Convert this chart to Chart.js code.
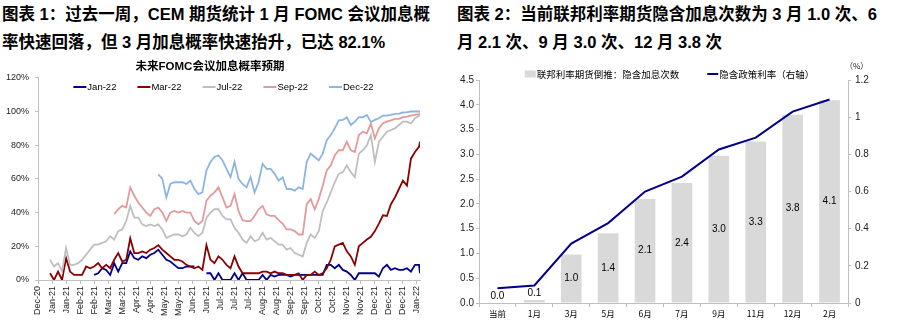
<!DOCTYPE html>
<html>
<head>
<meta charset="utf-8">
<script src="https://cdn.jsdelivr.net/npm/chart.js@4/dist/chart.umd.min.js"></script>
<style>
  body { margin: 0; background: #fff; width: 899px; height: 329px; position: relative; overflow: hidden; }
  .hd { position: absolute; top: 0; font: bold 16.5px/28px "Liberation Sans", "Noto Sans CJK SC", sans-serif; color: #000; white-space: nowrap; }
  canvas { position: absolute; top: 56px; }
</style>
</head>
<body>
<div class="hd" style="left:2px">图表 1：过去一周，CEM 期货统计 1 月 FOMC 会议加息概<br>率快速回落，但 3 月加息概率快速抬升，已达 82.1%</div>
<div class="hd" style="left:457px">图表 2：当前联邦利率期货隐含加息次数为 3 月 1.0 次、6<br>月 2.1 次、9 月 3.0 次、12 月 3.8 次</div>
<canvas id="prob" width="450" height="273" style="left:0"></canvas>
<canvas id="hikes" width="449" height="273" style="left:450px"></canvas>
<script>
// left chart: tick labels every 14 days starting at Dec-20
const dateTicks = ["Dec-20", "Jan-21", "Jan-21", "Feb-21", "Feb-21", "Mar-21", "Mar-21", "Apr-21", "Apr-21",
  "May-21", "May-21", "Jun-21", "Jun-21", "Jul-21", "Jul-21", "Jul-21", "Aug-21", "Aug-21", "Sep-21", "Sep-21",
  "Oct-21", "Oct-21", "Nov-21", "Nov-21", "Dec-21", "Dec-21", "Dec-21", "Jan-22"];

// days since the Dec-20 tick
const days = [0, 4, 8, 12, 16, 20, 24, 28, 32, 36, 40, 44, 48, 52, 56, 60, 64, 68, 72, 76, 80, 84, 88, 92, 96,
  100, 104, 108, 112, 116, 120, 124, 128, 132, 136, 140, 144, 148, 152, 156, 160, 164, 168, 172, 176, 180, 184,
  188, 192, 196, 200, 204, 208, 212, 216, 220, 224, 228, 232, 236, 240, 244, 248, 252, 256, 260, 264, 268, 272,
  276, 280, 284, 288, 292, 296, 300, 304, 308, 312, 316, 320, 324, 328, 332, 336, 340, 344, 348, 352, 356, 360,
  364, 368, 372, 376, 380, 381];

const _ = null;
const jan22 = [_, _, _, _, _, _, _, _, _, _, _, _, _, _, 3, 4, 7, 6, 3, 10, 5, 10, 10, 17, 13, 12, 14, 13, 15, 16,
  18, 15, 12, 11, 9, 7, 7, 8, 8, 8, _, _, 4, 4, 0, 4, 0, 0, 0, 4, 0, 4, 0, 0, 0, 0, 3, 0, 3, 2, 3, 3, 3, 2, 3, 3,
  3, 3, 3, 3, 3, 3, 9, 9, 7, 9, 6, 5, 3, 0, 4, 4, 4, 4, 4, 2, 7, 9, 6, 7, 6, 6, 7, 5, 9, 9, 4];
const mar22 = [_, _, _, 4, 0, 5, 0, 13, 5, 3, 3, 3, 8, 7, 8, 10, 7, 9, 7, 12, 16, 11, 12, 24.7, 16, 16, 17, 16, 18,
  19, 20.7, 18, 16, 14, 12, 12, 11, 9, 8, 7, 8, 6, 20.7, 12, 10, 14, 12, 9, 7, 14, 8, 4, 4, 4, 4, 4, 5, 5, 4, 5, 4,
  4, 3, 3, 3, 4, 0, 3, 3, 5, 3, 4, 7, 12, 20, 21, 22, 17, 14, 9, 20, 22, 24, 25.6, 29, 33.5, 38.4, 38, 45, 49, 54,
  59, 56, 72, 76, 79, 82.1];
const jul22 = [_, _, _, 12, 8, 10, 5, 19, 9, 9, 10, 12, 15, 18, 21, 21, 22, 23, 26, 24, 29, 30, 35, 44, 37, 37, 33,
  32, 33, 32, 33, 30, 25, 26, 27, 27, 26, 27, 31, 28, 26, 28, 37, 40, 42, 42, 38, 36, 36, 31, 28, 24, 22, 26, 23,
  24, 28, 24, 25, 23, 21, 21, 18, 19, 16, 15, 14, 22, 27, 25, 29, 41, 46, 52, 58, 63, 64, 68, 64, 61, 75, 77, 80,
  86, 70, 82, 85, 88, 89, 90, 92, 94, 94, 93, 96, 97.5, 98];
const sep22 = [_, _, _, _, _, _, _, _, _, _, _, _, _, _, _, _, _, _, _, 39, 42, 44, 43, 55, 50, 46, 43, 40, 38, 42,
  43, 40, 35, 40, 41, 40, 41, 40, 40, 35, 33, 35, 47, 50, 52, 55, 49, 43, 44, 51, 41, 35.5, 35, 35, 38, 42, 44, 39,
  38, 38, 35.5, 33.5, 30, 30, 29, 27, 27, 45, 48, 42, 48, 56, 65, 68, 74, 77, 77, 82, 77, 76, 86, 88, 87, 93, 84,
  90, 93, 94, 94.7, 95.6, 95.6, 96.6, 97, 97.6, 98, 98.4, 98.6];
const dec22 = [_, _, _, _, _, _, _, _, _, _, _, _, _, _, _, _, _, _, _, _, _, _, _, _, _, _, _, _, _, _, 62.7, 60,
  49, 57, 58, 58, 58, 57, 59, 54, 51, 52, 65, 70, 73, 74, 71, 66, 61, 70, 60, 57, 55, 61, 52, 58, 69, 66, 66, 63,
  59, 61, 54, 54, 53, 55, 54, 70, 75, 73, 71, 75, 83, 86, 90, 94.7, 95, 96.6, 92, 94, 96.6, 96.6, 98, 93.7, 95, 96,
  97.6, 97.6, 98, 98.6, 98.8, 99.4, 99.6, 100, 100, 100, 100];

// right chart
const meetings = ["当前", "1月", "3月", "5月", "6月", "7月", "9月", "11月", "12月", "2月"];
const hikeCounts = [0.0, 0.06, 0.98, 1.41, 2.1, 2.42, 2.97, 3.26, 3.8, 4.09];
const impliedRate = [0.08, 0.094, 0.32, 0.43, 0.6, 0.68, 0.826, 0.89, 1.03, 1.095];

Chart.defaults.font.family = '"Liberation Sans", "Noto Sans CJK SC", sans-serif';
Chart.defaults.color = "#222";

const axisGray = "#BFBFBF";

function pts(arr) {
  return days.map((d, i) => ({ x: d, y: arr[i] }));
}

// legend drawn inside / over the plot like the original
const innerLegend = {
  id: "innerLegend",
  afterDraw(chart, args, o) {
    const ctx = chart.ctx;
    ctx.save();
    ctx.font = o.font;
    ctx.textBaseline = "middle";
    const items = chart.data.datasets.map((d) => ({
      text: d.label,
      bar: d.type === "bar",
      color: d.type === "bar" ? d.backgroundColor : d.borderColor,
    }));
    const widths = items.map((it) => o.box + 1 + ctx.measureText(it.text).width);
    const total = widths.reduce((a, b) => a + b, 0) + o.gap * (items.length - 1);
    let x = o.cx - total / 2;
    items.forEach((it, i) => {
      ctx.fillStyle = it.color;
      if (it.bar) ctx.fillRect(x, o.y - 3.5, o.box, 7);
      else ctx.fillRect(x, o.y - 1, o.box, 2);
      ctx.fillStyle = "#000";
      ctx.fillText(it.text, x + o.box + 1, o.y);
      x += widths[i] + o.gap;
    });
    ctx.restore();
  },
};

const barValues = {
  id: "barValues",
  afterDatasetsDraw(chart) {
    const ctx = chart.ctx;
    const meta = chart.getDatasetMeta(0);
    ctx.save();
    ctx.font = '10px "Liberation Sans", sans-serif';
    ctx.fillStyle = "#000";
    ctx.textAlign = "center";
    ctx.textBaseline = "middle";
    meta.data.forEach((bar, i) => {
      const h = bar.base - bar.y;
      const y = h > 20 ? (bar.y + bar.base) / 2 : bar.y - 7;
      ctx.fillText(hikeCounts[i].toFixed(1), bar.x, y);
    });
    // unit above the right axis
    ctx.font = '8px "Noto Sans CJK SC", sans-serif';
    ctx.fillStyle = "#222";
    ctx.textAlign = "left";
    ctx.fillText("（%）", chart.chartArea.right - 3, chart.chartArea.top - 14);
    ctx.restore();
  },
};

new Chart(document.getElementById("prob"), {
  type: "line",
  data: {
    datasets: [
      { label: "Jan-22", data: pts(jan22), borderColor: "#00008B", order: 5 },
      { label: "Mar-22", data: pts(mar22), borderColor: "#8B0000", order: 4 },
      { label: "Jul-22", data: pts(jul22), borderColor: "#BFBFBF", order: 3 },
      { label: "Sep-22", data: pts(sep22), borderColor: "#E39A9A", order: 2 },
      { label: "Dec-22", data: pts(dec22), borderColor: "#8DB4E2", order: 1 },
    ].map((d) => Object.assign(d, { borderWidth: 1.8, pointRadius: 0, tension: 0 })),
  },
  options: {
    responsive: false,
    animation: false,
    layout: { padding: { right: 30 } },
    plugins: {
      legend: { display: false },
      tooltip: { enabled: false },
      title: {
        display: true,
        text: "未来FOMC会议加息概率预期",
        color: "#000",
        font: { size: 11.5, weight: "bold" },
        padding: { top: 4, bottom: 4 },
      },
      innerLegend: { cx: 223.5, y: 31, box: 13, gap: 21, font: '9.5px "Liberation Sans", sans-serif' },
    },
    scales: {
      x: {
        type: "linear",
        min: 0,
        max: 381,
        afterFit(s) { s.height = 49; },
        border: { color: axisGray },
        grid: { drawOnChartArea: false, tickLength: 4, color: axisGray },
        ticks: {
          stepSize: 14,
          includeBounds: false,
          autoSkip: false,
          minRotation: 90,
          maxRotation: 90,
          padding: 2,
          font: { size: 9 },
          callback: (v) => dateTicks[v / 14],
        },
      },
      y: {
        min: 0,
        max: 120,
        afterFit(s) { s.width = 38; },
        border: { color: axisGray },
        grid: { drawOnChartArea: false, tickLength: 3, color: axisGray },
        ticks: { stepSize: 20, padding: 6, font: { size: 9 }, callback: (v) => v + "%" },
      },
    },
  },
  plugins: [innerLegend],
});

new Chart(document.getElementById("hikes"), {
  type: "bar",
  data: {
    labels: meetings,
    datasets: [
      {
        type: "bar",
        label: "联邦利率期货倒推：隐含加息次数",
        data: hikeCounts,
        backgroundColor: "#D9D9D9",
        yAxisID: "y",
        order: 2,
        barPercentage: 0.56,
        categoryPercentage: 1,
      },
      {
        type: "line",
        label: "隐含政策利率（右轴）",
        data: impliedRate,
        borderColor: "#00008B",
        backgroundColor: "#00008B",
        borderWidth: 2,
        pointRadius: 0,
        tension: 0,
        yAxisID: "y1",
        order: 1,
      },
    ],
  },
  options: {
    responsive: false,
    animation: false,
    layout: { padding: { top: 24 } },
    plugins: {
      legend: { display: false },
      tooltip: { enabled: false },
      innerLegend: { cx: 219.5, y: 18, box: 11, gap: 28, font: '9.5px "Noto Sans CJK SC", sans-serif' },
    },
    scales: {
      x: {
        afterFit(s) { s.height = 26; },
        border: { color: axisGray },
        grid: { drawOnChartArea: false, tickLength: 4, color: axisGray },
        ticks: { padding: 2, font: { size: 8.5, family: '"Noto Sans CJK SC", sans-serif' }, color: "#000" },
      },
      y: {
        min: 0,
        max: 4.5,
        afterFit(s) { s.width = 29; },
        border: { color: axisGray },
        grid: { drawOnChartArea: false, tickLength: 3, color: axisGray },
        ticks: { stepSize: 0.5, padding: 2, font: { size: 10 }, callback: (v) => v.toFixed(1) },
      },
      y1: {
        position: "right",
        min: 0,
        max: 1.2,
        afterFit(s) { s.width = 51; },
        border: { color: axisGray },
        grid: { drawOnChartArea: false, tickLength: 3, color: axisGray },
        ticks: { stepSize: 0.2, padding: 4, font: { size: 10 }, callback: (v) => String(+v.toFixed(1)) },
      },
    },
  },
  plugins: [innerLegend, barValues],
});
</script>
</body>
</html>
